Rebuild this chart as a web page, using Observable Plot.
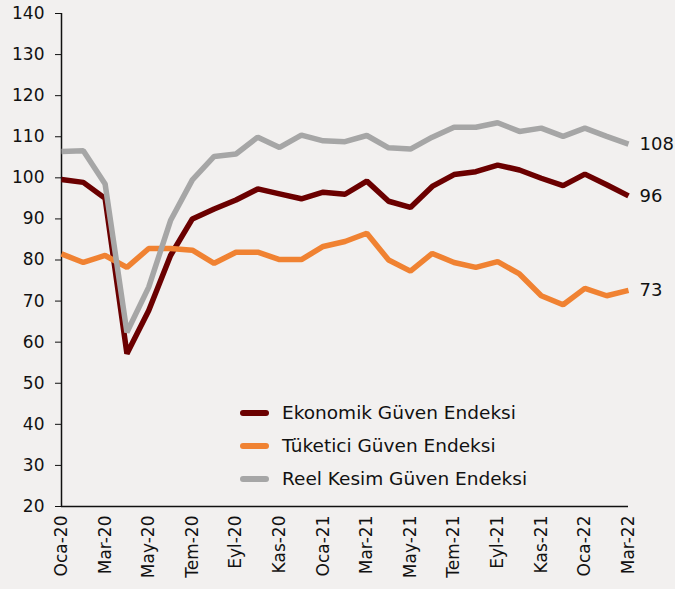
<!DOCTYPE html>
<html>
<head>
<meta charset="utf-8">
<script src="https://cdn.jsdelivr.net/npm/d3@7"></script>
<script src="https://cdn.jsdelivr.net/npm/@observablehq/plot@0.6"></script>
<style>
  html, body { margin: 0; padding: 0; background: #f2f0ef; overflow: hidden; }
  #wrap { position: relative; width: 675px; height: 589px; font-family: "DejaVu Sans", sans-serif; }
  #wrap svg { display: block; }
  #legend { position: absolute; left: 240px; top: 396px; font-size: 18.5px; color: #111; }
  #legend .row { display: flex; align-items: center; height: 33px; }
  #legend .sw { width: 29px; height: 6px; border-radius: 3px; margin-right: 13px; }
</style>
</head>
<body>
<div id="wrap"></div>
<script>
const months = ["Oca-20","Şub-20","Mar-20","Nis-20","May-20","Haz-20","Tem-20","Ağu-20","Eyl-20","Eki-20","Kas-20","Ara-20",
                "Oca-21","Şub-21","Mar-21","Nis-21","May-21","Haz-21","Tem-21","Ağu-21","Eyl-21","Eki-21","Kas-21","Ara-21",
                "Oca-22","Şub-22","Mar-22"];
const tickLabels = ["Oca-20","Mar-20","May-20","Tem-20","Eyl-20","Kas-20","Oca-21","Mar-21","May-21","Tem-21","Eyl-21","Kas-21","Oca-22","Mar-22"];
const seriesNames = ["Ekonomik Güven Endeksi","Tüketici Güven Endeksi","Reel Kesim Güven Endeksi"];
const seriesColors = ["#6b0000","#f08232","#a6a6a6"];
const ekonomik = [99.6, 98.9, 95.0, 57.2, 67.7, 81.1, 90.0, 92.4, 94.6, 97.3, 96.1, 94.9, 96.5, 96.0, 99.2, 94.3, 92.8, 97.9, 100.8, 101.5, 103.1, 101.9, 99.9, 98.1, 100.9, 98.3, 95.6];
const tuketici = [81.5, 79.4, 81.1, 78.2, 82.8, 82.8, 82.4, 79.2, 81.9, 81.9, 80.1, 80.1, 83.3, 84.5, 86.5, 80.0, 77.3, 81.6, 79.4, 78.2, 79.6, 76.6, 71.3, 69.1, 73.1, 71.3, 72.6];
const reel = [106.4, 106.6, 98.5, 62.4, 73.4, 89.6, 99.5, 105.2, 105.8, 109.9, 107.4, 110.4, 109.0, 108.8, 110.3, 107.3, 107.0, 109.9, 112.3, 112.3, 113.4, 111.3, 112.1, 110.1, 112.1, 110.1, 108.2];
const endLabels = ["96","73","108"];
const yTicks = [20,30,40,50,60,70,80,90,100,110,120,130,140];

const allSeries = [ekonomik, tuketici, reel];
const rows = [];
allSeries.forEach((vals, s) => vals.forEach((v, i) => rows.push({idx: i, value: v, series: seriesNames[s]})));
const lastIdx = months.length - 1;
const lastRows = allSeries.map((vals, s) => ({idx: lastIdx, value: vals[lastIdx], label: endLabels[s]}));
const xTicks = tickLabels.map(t => months.indexOf(t));

const chart = Plot.plot({
  width: 675,
  height: 589,
  marginLeft: 61,
  marginRight: 47,
  marginTop: 13,
  marginBottom: 83,
  style: {background: "#f2f0ef", fontFamily: "DejaVu Sans, sans-serif", fontSize: "17px", color: "#111"},
  x: {type: "linear", domain: [0, lastIdx], label: null},
  y: {domain: [20, 140], label: null},
  color: {domain: seriesNames, range: seriesColors},
  marks: [
    Plot.axisY({ticks: yTicks, tickSize: 6, tickPadding: 11, label: null, fontSize: 17, fill: "#111", stroke: "#111"}),
    Plot.axisX({ticks: xTicks, tickFormat: i => months[i], tickSize: 0, tickPadding: 9, tickRotate: -90, label: null, fontSize: 17, fill: "#111"}),
    Plot.ruleY([20], {stroke: "#111", strokeWidth: 1.5}),
    Plot.ruleX([0], {stroke: "#111", strokeWidth: 1.5}),
    Plot.line(rows, {x: "idx", y: "value", z: "series", stroke: "series", strokeWidth: 5.5, strokeLinejoin: "miter", strokeLinecap: "butt"}),
    Plot.text(lastRows, {x: "idx", y: "value", text: "label", dx: 11, textAnchor: "start", fontSize: 18, fill: "#111"})
  ]
});
const wrap = document.getElementById("wrap");
wrap.appendChild(chart);

const legend = document.createElement("div");
legend.id = "legend";
seriesNames.forEach((n, i) => {
  const r = document.createElement("div");
  r.className = "row";
  const sw = document.createElement("span");
  sw.className = "sw";
  sw.style.background = seriesColors[i];
  const t = document.createElement("span");
  t.textContent = n;
  r.appendChild(sw); r.appendChild(t);
  legend.appendChild(r);
});
wrap.appendChild(legend);
</script>
</body>
</html>
